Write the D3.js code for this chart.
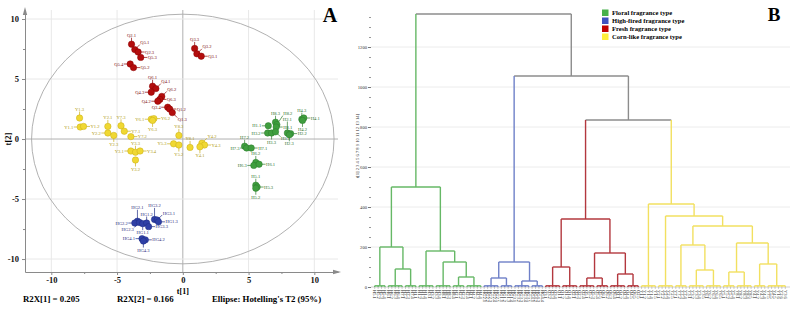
<!DOCTYPE html>
<html><head><meta charset="utf-8">
<script src="https://cdn.jsdelivr.net/npm/d3@7"></script>
<style>body{margin:0;background:#fff}svg{display:block}</style>
</head><body>
<svg id="c" width="793" height="313"></svg>
<script>
// ---------------- DATA ----------------
const typeNames = ["Floral fragrance type","High-fired fragrance type","Fresh fragrance type","Corn-like fragrance type"];
const pcaTicks = [-10,-5,0,5,10];
const pcaMinorTicks = [-7.5,-2.5,2.5,7.5];
const r2x1 = "R2X[1] = 0.205", r2x2 = "R2X[2] = 0.166", ellipseNote = "Ellipse: Hotelling's T2 (95%)";

// PCA scores: [sample, t1, t2]
const floralScores = [
  ["H1.1",6.5,1.1],["H8.3",7.05,1.4],["H8.2",7.15,1.2],["H8.1",7.1,1.0],
  ["H3.2",6.45,0.5],["H3.3",6.75,0.5],["H3.1",7.05,0.6],
  ["H2.1",7.95,0.5],["H2.2",8.2,0.45],["H2.3",8.1,0.35],
  ["H4.3",9.05,1.65],["H4.1",9.2,1.75],["H4.2",9.1,1.55],
  ["H7.2",4.7,-0.6],["H7.3",4.85,-0.75],["H7.1",5.2,-0.75],
  ["H6.2",5.55,-1.95],["H6.3",5.4,-2.2],["H6.1",5.8,-2.1],
  ["H5.1",5.55,-3.85],["H5.3",5.65,-4.0],["H5.2",5.55,-4.1]
];
const floralSides = ["l","t","TR","r","l","b","br","T","r","b","t","r","b","t","l","r","t","l","r","t","r","b"];

const highFiredScores = [
  ["HG2.1",-3.45,-6.85],["HG2.2",-3.65,-7.0],["HG2.3",-3.3,-6.95],["HG1.1",-3.05,-7.05],
  ["HG1.2",-2.75,-7.0],["HG3.3",-2.6,-7.3],["HG3.2",-2.15,-6.7],["HG3.1",-1.95,-6.75],
  ["HG1.3",-1.85,-6.9],["HG4.1",-3.1,-8.3],["HG4.2",-2.85,-8.4],["HG4.3",-3.0,-8.5]
];
const highFiredSides = ["T","l","bl","b","t","r","T","tr","r","l","r","b"];

const freshScores = [
  ["Q2.1",-3.9,7.9],["Q5.1",-3.65,7.45],["Q2.3",-3.4,7.25],["Q5.3",-3.2,6.8],
  ["Q5.4",-4.0,6.25],["Q5.2",-3.75,5.95],["Q6.1",-2.3,4.4],["Q4.1",-2.05,4.2],
  ["Q4.3",-2.4,3.9],["Q6.2",-1.6,3.55],["Q6.3",-1.75,3.3],["Q4.2",-1.9,3.15],
  ["Q3.4",-1.15,2.65],["Q1.2",-1.0,2.5],["Q1.3",-0.8,2.2],
  ["Q3.3",0.9,7.55],["Q3.2",1.07,7.1],["Q3.1",1.4,6.9]
];
const freshSides = ["t","tr","r","r","l","r","t","tr","l","tr","r","l","l","r","br","t","tr","r"];

const cornScores = [
  ["Y1.3",-7.85,1.75],["Y1.1",-7.8,1.0],["Y1.2",-7.55,1.05],["Y2.1",-5.7,1.05],
  ["Y7.3",-4.7,1.1],["Y7.1",-4.45,0.65],["Y2.2",-5.7,0.5],["Y2.3",-5.25,0.3],
  ["Y7.2",-3.95,0.2],["Y6.1",-2.4,1.65],["Y6.2",-2.2,1.7],["Y6.3",-2.3,1.55],
  ["Y8.3",-0.3,0.3],["Y3.1",-3.95,-1.0],["Y3.3",-3.6,-1.1],["Y3.4",-3.25,-1.0],
  ["Y3.2",-3.6,-1.75],["Y5.3",-0.7,-0.4],["Y5.2",-0.3,-0.5],["Y8.1",0.55,-0.7],
  ["Y4.2",1.45,-0.35],["Y4.3",1.65,-0.5],["Y4.1",1.3,-0.65]
];
const cornSides = ["t","l","r","t","t","r","l","b","r","l","r","b","t","l","t","r","b","l","b","t","tr","r","b"];

// Dendrogram: leaf groups and merge heights
const leafGroups = {
  G1:["H5.1","H5.2","H5.3","H5.4"],
  G2:["H6.1","H6.2","H6.3","H6.4","H7.1"],
  G3:["H7.2","H7.3","H7.4","H1.1"],
  G4:["H1.2","H1.3","H1.4","H3.1","H3.2"],
  G5:["H3.3","H3.4","H8.1","H8.2","H8.3"],
  G6:["H8.4","H2.1","H2.2","H2.3"],
  G7:["H2.4","H4.1","H4.2","H4.3","H4.4"],
  B1:["HG2.1","HG2.2","HG2.3","HG2.4","HG2.5"],
  B2:["HG1.1","HG1.2","HG1.3","HG1.4"],
  B3:["HG3.1","HG3.2","HG3.3","HG3.4","HG3.5"],
  B4:["HG4.1","HG4.2","HG4.3","HG4.4"],
  R1:["Q3.1","Q3.2","Q3.3","Q3.4","Q1.1"],
  R2:["Q1.2","Q1.3","Q1.4","Q2.1","Q2.2"],
  R3:["Q2.3","Q2.4","Q5.1","Q5.2","Q5.3"],
  R4:["Q5.4","Q5.5","Q6.1","Q6.2"],
  R5:["Q6.3","Q6.4","Q4.1","Q4.2","Q4.3"],
  R6:["Q4.4","Q4.5","Q6.5","Q2.5"],
  Y1:["Y1.1","Y1.2","Y1.3","Y1.4","Y1.5"],
  Y2:["Y2.1","Y2.2","Y2.3","Y2.4","Y2.5"],
  Y3:["Y7.1","Y7.2","Y7.3","Y7.4"],
  Y4:["Y3.1","Y3.2","Y3.3","Y3.4","Y3.5"],
  Y5:["Y6.1","Y6.2","Y6.3","Y6.4","Y6.5"],
  Y6:["Y5.1","Y5.2","Y5.3","Y5.4"],
  Y7:["Y8.1","Y8.2","Y8.3","Y8.4","Y8.5"],
  Y8:["Y4.1","Y4.2","Y4.3","Y4.4"],
  Y9:["Y7.5","Y5.5","Y4.5","Y1.6","Y2.6","Y3.6"]
};
const groupMergeHeight = 6;
// [height, left, right]
const mergeTree =
 [1365,
   [500, [200,"G1",[90,"G2","G3"]], [180,"G4",[125,"G5",[50,"G6","G7"]]]],
   [1055,
     [125, [45,"B1","B2"], [30,"B3","B4"]],
     [835,
       [340, [100,"R1","R2"], [170,[45,"R3","R4"],[65,"R5","R6"]]],
       [415, "Y1", [355,"Y2",[305,[210,"Y3",[85,"Y4","Y5"]],[220,[75,"Y6","Y7"],[115,"Y8","Y9"]]]]]
     ]
   ]
 ];
const dendroTicks = [0,200,400,600,800,1000,1200];
const dendroMinorTicks = [50,100,150,250,300,350,450,500,550,650,700,750,850,900,950,1050,1100,1150,1250,1300,1350];
const dendroAxisTitle = "t[1] 2 3 4 5 6 7 8 9 10 11 12 13 14]";

// ---------------- DRAW ----------------
const serif = "'Liberation Serif','Times New Roman',serif";
const svg = d3.select("#c").attr("font-family", serif);

// ===== Panel A =====
const xA = d3.scaleLinear().domain([-12, 11.8]).range([25, 338]);
const yA = d3.scaleLinear().domain([-11.08, 10.75]).range([272, 10]);
const gA = svg.append("g");

gA.selectAll(".vg").data(pcaTicks).join("line")
  .attr("x1", d => xA(d)).attr("x2", d => xA(d))
  .attr("y1", yA.range()[1]).attr("y2", yA.range()[0])
  .attr("stroke", d => d === 0 ? "#b0b0b0" : "#e8e8e8").attr("stroke-width", 1);
gA.selectAll(".hg").data(pcaTicks).join("line")
  .attr("y1", d => yA(d)).attr("y2", d => yA(d))
  .attr("x1", xA.range()[0]).attr("x2", xA.range()[1])
  .attr("stroke", d => d === 0 ? "#b0b0b0" : "#e8e8e8").attr("stroke-width", 1);

gA.append("ellipse")
  .attr("cx", xA(0)).attr("cy", yA(0))
  .attr("rx", xA(11.5) - xA(0)).attr("ry", yA(0) - yA(10.4))
  .attr("fill", "none").attr("stroke", "#a8a8a8").attr("stroke-width", 0.9);

function styleAxis(g) {
  g.selectAll("path,line").attr("stroke", "#8a8a8a");
  g.selectAll("text").attr("font-family", serif).attr("font-weight", "bold")
    .attr("font-size", 8.5).attr("fill", "#111");
}
const axB = gA.append("g").attr("transform", `translate(0,${yA.range()[0]})`)
  .call(d3.axisBottom(xA).tickValues(pcaTicks).tickSize(3).tickSizeOuter(0).tickFormat(d => String(d)))
  .call(styleAxis);
axB.selectAll("text").attr("y", 5);
gA.append("g").attr("transform", `translate(0,${yA.range()[0]})`)
  .call(d3.axisBottom(xA).tickValues(pcaMinorTicks).tickSize(2).tickFormat(""))
  .call(g => g.select(".domain").remove()).call(styleAxis);
gA.append("g").attr("transform", `translate(${xA.range()[0]},0)`)
  .call(d3.axisLeft(yA).tickValues(pcaTicks).tickSize(3).tickSizeOuter(0).tickFormat(d => String(d)))
  .call(styleAxis);
gA.append("g").attr("transform", `translate(${xA.range()[0]},0)`)
  .call(d3.axisLeft(yA).tickValues(pcaMinorTicks).tickSize(2).tickFormat(""))
  .call(g => g.select(".domain").remove()).call(styleAxis);

// arrows
const xr = xA.range()[1], yb = yA.range()[0], xl = xA.range()[0], yt = yA.range()[1];
gA.append("path").attr("d", `M${xr-5},${yb-2.2}L${xr+3},${yb}L${xr-5},${yb+2.2}Z`).attr("fill", "#8a8a8a");
gA.append("path").attr("d", `M${xl-2.2},${yt+5}L${xl},${yt-3}L${xl+2.2},${yt+5}Z`).attr("fill", "#8a8a8a");

gA.append("text").attr("x", xA(0)).attr("y", 293.5).attr("text-anchor", "middle")
  .attr("font-size", 8).attr("font-weight", "bold").text("t[1]");
gA.append("text").attr("transform", `translate(11,${yA(0)}) rotate(-90)`).attr("text-anchor", "middle")
  .attr("font-size", 8.5).attr("font-weight", "bold").text("t[2]");

gA.append("text").attr("x", 23).attr("y", 302).attr("font-size", 8.8).attr("font-weight", "bold").text(r2x1);
gA.append("text").attr("x", 117).attr("y", 302).attr("font-size", 8.8).attr("font-weight", "bold").text(r2x2);
gA.append("text").attr("x", 212).attr("y", 302).attr("font-size", 8.8).attr("font-weight", "bold").text(ellipseNote);
gA.append("text").attr("x", 330).attr("y", 22).attr("text-anchor", "middle")
  .attr("font-size", 20).attr("font-weight", "bold").text("A");

const pcaSets = [
  {data: freshScores, sides: freshSides, fill: "#b30d0d", stroke: "#8a0000", text: "#7a0a0a"},
  {data: cornScores, sides: cornSides, fill: "#f0d832", stroke: "#c9ae16", text: "#b09a10"},
  {data: floralScores, sides: floralSides, fill: "#3f9e3f", stroke: "#2d7d2d", text: "#2a6f2a"},
  {data: highFiredScores, sides: highFiredSides, fill: "#2f40a6", stroke: "#1f2d85", text: "#1f2a7a"}
];
const geom = {
  r:  {lx: 6.5, ly: 0,    tx: 7,    ty: 1.6,  a: "start"},
  l:  {lx: -6.5, ly: 0,   tx: -7,   ty: 1.6,  a: "end"},
  t:  {lx: 0, ly: -6.5,   tx: 0,    ty: -7,   a: "middle"},
  T:  {lx: 0, ly: -11.5,  tx: 0,    ty: -12,  a: "middle"},
  b:  {lx: 0, ly: 6.5,    tx: 0,    ty: 10.5, a: "middle"},
  tr: {lx: 5, ly: -5,     tx: 5.5,  ty: -5.5, a: "start"},
  TR: {lx: 6, ly: -9,     tx: 6.5,  ty: -9.8, a: "start"},
  br: {lx: 5, ly: 5,      tx: 5.5,  ty: 8.5,  a: "start"},
  bl: {lx: -5, ly: 5,     tx: -5.5, ty: 8.5,  a: "end"}
};
pcaSets.forEach(set => {
  const g = gA.append("g");
  const items = set.data.map((d, i) => ({name: d[0], t1: d[1], t2: d[2], s: geom[set.sides[i]]}));
  g.selectAll("line.c").data(items).join("line")
    .attr("x1", d => xA(d.t1)).attr("y1", d => yA(d.t2))
    .attr("x2", d => xA(d.t1) + d.s.lx).attr("y2", d => yA(d.t2) + d.s.ly)
    .attr("stroke", set.stroke).attr("stroke-width", 0.7);
  g.selectAll("circle").data(items).join("circle")
    .attr("cx", d => xA(d.t1)).attr("cy", d => yA(d.t2)).attr("r", 3.2)
    .attr("fill", set.fill).attr("stroke", set.stroke).attr("stroke-width", 0.5);
  g.selectAll("text").data(items).join("text")
    .attr("x", d => xA(d.t1) + d.s.tx).attr("y", d => yA(d.t2) + d.s.ty)
    .attr("text-anchor", d => d.s.a)
    .attr("font-size", 4.6).attr("fill", set.text).text(d => d.name);
});

// ===== Panel B =====
const yB = d3.scaleLinear().domain([0, 1400]).range([287, 7]);
const xB = d3.scaleLinear().domain([0, 1]).range([373, 787]);
const gB = svg.append("g");

gB.selectAll(".grid").data(dendroTicks).join("line")
  .attr("x1", 371).attr("x2", 790).attr("y1", d => yB(d)).attr("y2", d => yB(d))
  .attr("stroke", d => d === 0 ? "#cfcfcf" : "#ececec").attr("stroke-width", 1);

const axL = gB.append("g").attr("transform", "translate(371,0)")
  .call(d3.axisLeft(yB).tickValues(dendroTicks).tickSize(3).tickFormat(d => String(d)));
axL.select(".domain").remove();
axL.selectAll("line").attr("stroke", "#777");
axL.selectAll("text").attr("font-size", 4.6).attr("font-family", serif).attr("fill", "#333").attr("x", -4);
const axM = gB.append("g").attr("transform", "translate(371,0)")
  .call(d3.axisLeft(yB).tickValues(dendroMinorTicks).tickSize(2).tickFormat(""));
axM.select(".domain").remove();
axM.selectAll("line").attr("stroke", "#999");

gB.append("text").attr("transform", "translate(359,146) rotate(-90)").attr("text-anchor", "middle")
  .attr("font-size", 4.6).attr("fill", "#333").text(dendroAxisTitle);

function build(node) {
  if (typeof node === "string")
    return {h: groupMergeHeight, children: leafGroups[node].map(n => ({name: n, h: 0}))};
  return {h: node[0], children: [build(node[1]), build(node[2])]};
}
const root = d3.hierarchy(build(mergeTree));
d3.cluster().size([1, 1]).separation(() => 1)(root);

const clusterColor = {H: "#66b866", HG: "#6f80c8", Q: "#b3383e", Y: "#f2e060"};
function kind(n) { return n.startsWith("HG") ? "HG" : n[0]; }
root.each(node => {
  const kinds = new Set(node.leaves().map(l => kind(l.data.name)));
  node.color = kinds.size === 1 ? clusterColor[[...kinds][0]] : "#8c8c8c";
});

const links = gB.append("g").attr("fill", "none").attr("stroke-width", 1.4);
root.descendants().forEach(node => {
  if (node.parent) {
    links.append("line")
      .attr("x1", xB(node.x)).attr("x2", xB(node.x))
      .attr("y1", yB(node.data.h)).attr("y2", yB(node.parent.data.h))
      .attr("stroke", node.color);
  }
  if (node.children) {
    const xs = node.children.map(c => c.x);
    links.append("line")
      .attr("x1", xB(d3.min(xs))).attr("x2", xB(d3.max(xs)))
      .attr("y1", yB(node.data.h)).attr("y2", yB(node.data.h))
      .attr("stroke", node.color);
  }
});

const leaves = root.leaves();
gB.append("g").selectAll("line").data(leaves).join("line")
  .attr("x1", d => xB(d.x)).attr("x2", d => xB(d.x)).attr("y1", yB(0)).attr("y2", yB(0) + 2)
  .attr("stroke", "#999").attr("stroke-width", 0.5);
gB.append("g").selectAll("text").data(leaves).join("text")
  .attr("transform", d => `translate(${xB(d.x)},${yB(0) + 3}) rotate(90)`)
  .attr("dy", "0.35em").attr("font-size", 4.5).attr("fill", "#111")
  .text(d => d.data.name);

// legend
const legendColors = ["#47b04b", "#3f51c0", "#c00000", "#ffee3a"];
const lg = gB.append("g");
typeNames.forEach((t, i) => {
  lg.append("rect").attr("x", 602).attr("y", 9.5 + i * 8).attr("width", 6.5).attr("height", 6.5).attr("fill", legendColors[i]);
  lg.append("text").attr("x", 612).attr("y", 15 + i * 8).attr("font-size", 6.6).attr("font-weight", "bold").text(t);
});
gB.append("text").attr("x", 774).attr("y", 21).attr("text-anchor", "middle")
  .attr("font-size", 19).attr("font-weight", "bold").text("B");
</script>
</body></html>
